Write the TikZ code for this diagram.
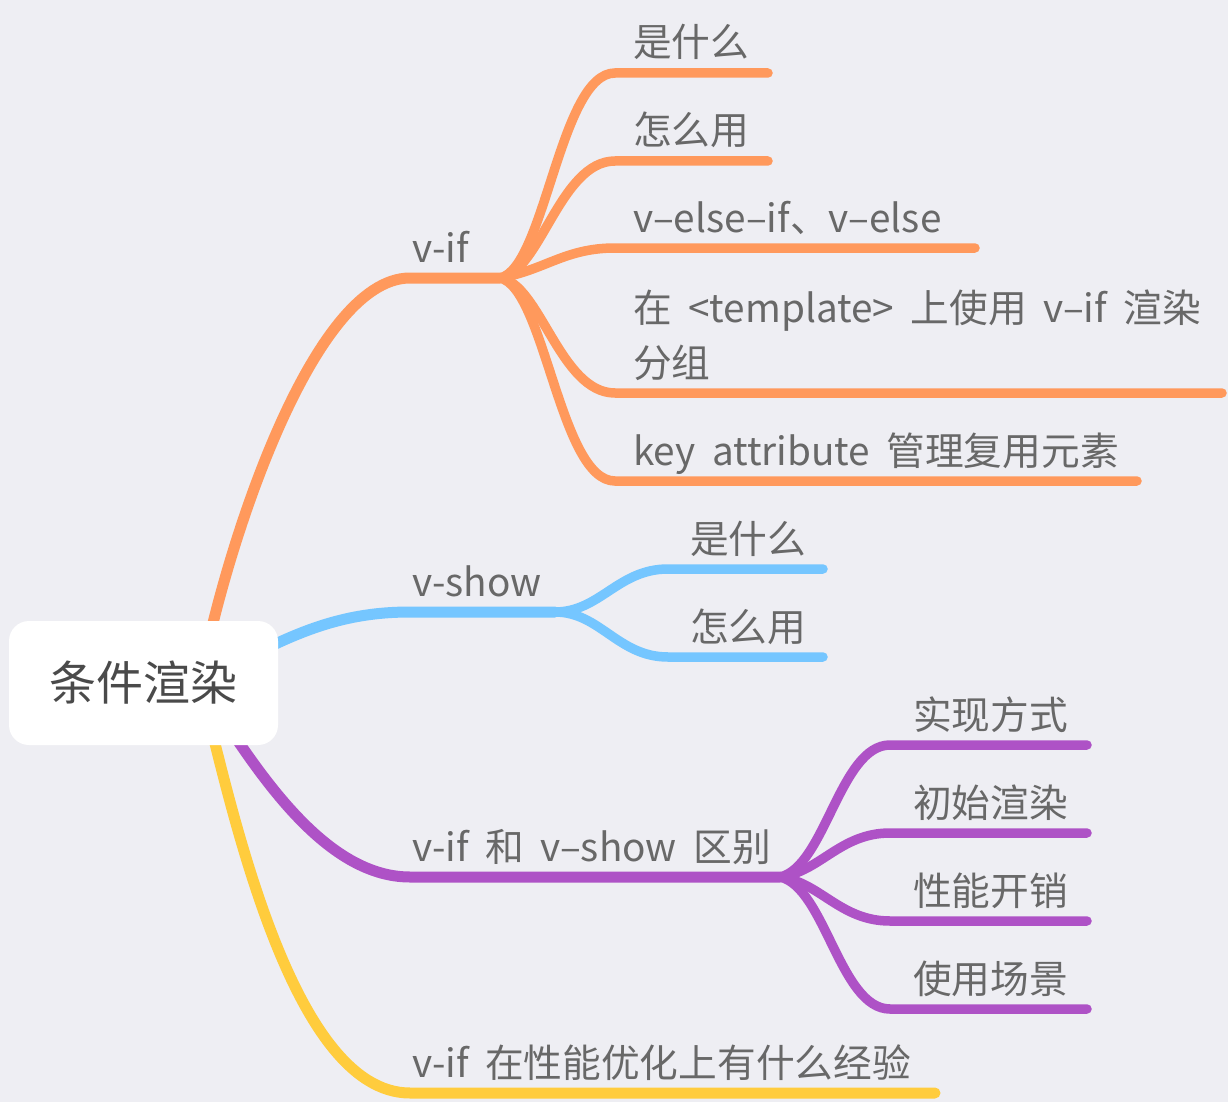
\documentclass[tikz,border=0pt]{standalone}
\usepackage{fontspec}
\setmainfont[WordSpace=1.9]{Noto Sans CJK SC}
\usetikzlibrary{positioning}

\definecolor{bgcol}{RGB}{238,238,243}
\definecolor{orangeln}{RGB}{255,153,92}
\definecolor{blueln}{RGB}{117,198,255}
\definecolor{purpleln}{RGB}{174,82,198}
\definecolor{yellowln}{RGB}{255,204,61}
\definecolor{txtgray}{RGB}{104,104,104}
\definecolor{roottxt}{RGB}{74,74,74}

\pgfdeclarelayer{bg}
\pgfdeclarelayer{edges}
\pgfsetlayers{bg,edges,main}

\tikzset{
  rootbox/.style={fill=white, rounded corners=20pt, minimum width=269pt,
    minimum height=124pt, inner sep=0pt, text=roottxt,
    font=\fontsize{47}{56}\selectfont},
  leaftext/.style={anchor=base west, inner sep=0pt, text=txtgray,
    font=\fontsize{38.7}{55}\selectfont},
  trunk/.style={line width=11pt, line cap=round},
  twig/.style={line width=9.5pt, line cap=round},
}

\begin{document}
\begin{tikzpicture}[x=1pt,y=-1pt]

\begin{pgfonlayer}{bg}
\fill[bgcol] (0,0) rectangle (1228,1102);
\end{pgfonlayer}
\useasboundingbox (0,0) rectangle (1228,1102);

% root node
\node[rootbox] (root) at (143.5,683) {条件渲染};
\coordinate (hub) at (200,683);

% v-if branch
\coordinate (vif-s) at (410,278);
\coordinate (vif-e) at (500,278);
\node[leaftext] (vif) at (412,262) {v-if};

\coordinate (o1-s) at (615,73);   \coordinate (o1-e) at (768,73);
\coordinate (o2-s) at (615,161);  \coordinate (o2-e) at (768,161);
\coordinate (o3-s) at (615,248);  \coordinate (o3-e) at (975,248);
\coordinate (o4-s) at (615,393);  \coordinate (o4-e) at (1222,393);
\coordinate (o5-s) at (615,481);  \coordinate (o5-e) at (1137,481);

\node[leaftext] (o1) at (633,57) {是什么};
\node[leaftext] (o2) at (633,145) {怎么用};
\node[leaftext] (o3) at (633,232) {v–else–if、v–else};
% base anchor sits on the last line here
\node[leaftext,align=left] (o4) at (633,377) {在 <template> 上使用 v–if 渲染\\分组};
\node[leaftext] (o5) at (633,465) {key attribute 管理复用元素};

% v-show branch
\coordinate (vshow-s) at (410,612);
\coordinate (vshow-e) at (555,612);
\node[leaftext] (vshow) at (412,596) {v-show};

\coordinate (b1-s) at (668,569);  \coordinate (b1-e) at (823,569);
\coordinate (b2-s) at (668,657);  \coordinate (b2-e) at (823,657);

\node[leaftext] (b1) at (690,553) {是什么};
\node[leaftext] (b2) at (690,641) {怎么用};

% v-if / v-show difference branch
\coordinate (vdiff-s) at (410,877);
\coordinate (vdiff-e) at (780,877);
\node[leaftext] (vdiff) at (412,861) {v-if 和 v–show 区别};

\coordinate (p1-s) at (890,745);  \coordinate (p1-e) at (1087,745);
\coordinate (p2-s) at (890,833);  \coordinate (p2-e) at (1087,833);
\coordinate (p3-s) at (890,921);  \coordinate (p3-e) at (1087,921);
\coordinate (p4-s) at (890,1009); \coordinate (p4-e) at (1087,1009);

\node[leaftext] (p1) at (913,729) {实现方式};
\node[leaftext] (p2) at (913,817) {初始渲染};
\node[leaftext] (p3) at (913,905) {性能开销};
\node[leaftext] (p4) at (913,993) {使用场景};

% performance branch
\coordinate (vperf-s) at (410,1093);
\coordinate (vperf-e) at (935,1093);
\node[leaftext] (vperf) at (412,1077) {v-if 在性能优化上有什么经验};

\begin{pgfonlayer}{edges}
% trunks from root
\draw[trunk,orangeln] (hub) .. controls (222,560) and (310,278) .. (vif-s) -- (vif-e);
\draw[trunk,blueln] (hub) .. controls (280,640) and (330,612) .. (vshow-s) -- (vshow-e);
\draw[trunk,purpleln] (hub) .. controls (250,760) and (320,877) .. (vdiff-s) -- (vdiff-e);
\draw[trunk,yellowln] (hub) .. controls (230,800) and (290,1093) .. (vperf-s) -- (vperf-e);

% orange twigs
\draw[twig,orangeln] (vif-e) .. controls +(45,-10) and +(-55,0) .. (o1-s) -- (o1-e);
\draw[twig,orangeln] (vif-e) .. controls +(40,-5) and +(-55,0) .. (o2-s) -- (o2-e);
\draw[twig,orangeln] (vif-e) .. controls +(45,-8) and +(-50,0) .. (o3-s) -- (o3-e);
\draw[twig,orangeln] (vif-e) .. controls +(40,5) and +(-55,0) .. (o4-s) -- (o4-e);
\draw[twig,orangeln] (vif-e) .. controls +(45,10) and +(-55,0) .. (o5-s) -- (o5-e);

% blue twigs
\draw[twig,blueln] (vshow-e) .. controls +(45,0) and +(-50,0) .. (b1-s) -- (b1-e);
\draw[twig,blueln] (vshow-e) .. controls +(45,0) and +(-50,0) .. (b2-s) -- (b2-e);

% purple twigs
\draw[twig,purpleln] (vdiff-e) .. controls +(45,-10) and +(-50,0) .. (p1-s) -- (p1-e);
\draw[twig,purpleln] (vdiff-e) .. controls +(40,-5) and +(-50,0) .. (p2-s) -- (p2-e);
\draw[twig,purpleln] (vdiff-e) .. controls +(40,5) and +(-50,0) .. (p3-s) -- (p3-e);
\draw[twig,purpleln] (vdiff-e) .. controls +(45,10) and +(-50,0) .. (p4-s) -- (p4-e);
\end{pgfonlayer}

\end{tikzpicture}
\end{document}
